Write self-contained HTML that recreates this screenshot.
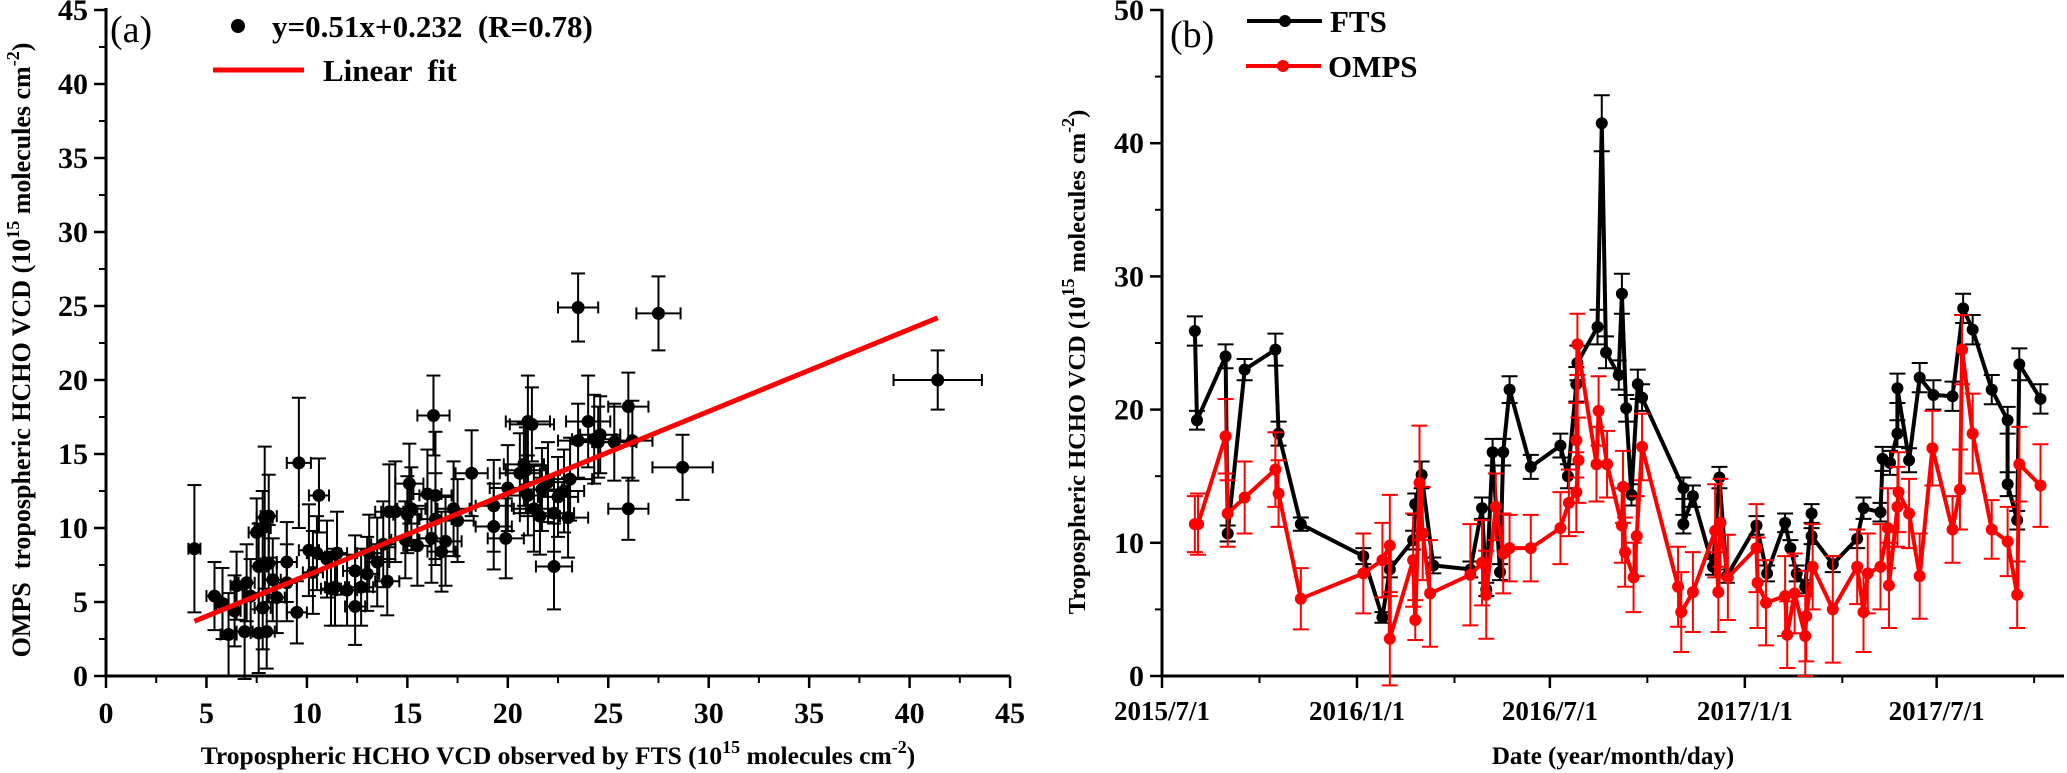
<!DOCTYPE html>
<html><head><meta charset="utf-8"><style>
html,body{margin:0;padding:0;background:#fff;}
svg{display:block;font-family:"Liberation Serif",serif;}
text{white-space:pre;}
</style></head><body>
<svg id="chart" width="2067" height="773" viewBox="0 0 2067 773"></svg>
<script>
// ---------- Panel (a) data ----------
const scatterFTS = [23.5,27.5,41.4,16.3,21,21.2,26,24.6,23.5,24.5,26.2,28.7,26.0,22.3,9.6,10.6,18.2,16,16.4,15.1,14.1,15.2,13.5,13.1,12.4,5.4,4.4,6.1,6.9,7.6,8.0,7.8,8.3,7.6,8.1,7.5,7.8,8.1,7.9,9.0,9.5,10.1,10.5,11.4,12.4,11.0,13.8,14.4,14.9,16.2,16.4,16.7,16.9,17.3,19.3,19.3,19.9,20.6,20.8,20.9,21.3,21.6,21.7,22.0,22.3,22.5,23.1,24.0,24.3,6.5,7.0,8.5,9.0,11.5,12.0,13.0,14.0,15.5,15.0,17.5,20.0,21.0,22.8,23.0,25.3,5.8,6.4,7.2,10.3,11.2,12.7];
const scatterOMPS = [24.9,24.5,20.0,17.6,17.2,17.0,18.2,16.3,15.9,15.8,15.9,14.1,11.3,7.4,14.4,12.2,13.7,12.3,12.2,13.0,11.1,11.3,7.7,8.3,4.7,5.4,8.6,2.8,3.0,2.9,3.0,4.6,6.5,7.4,7.6,9.7,10.0,10.8,10.7,7.7,4.3,8.5,8.3,6.0,7.1,7.9,8.9,11.1,9.2,9.3,10.6,8.4,9.1,11.3,11.5,10.1,9.3,13.7,14.3,13.9,11.3,10.8,12.6,13.1,11.0,12.1,13.3,17.2,16.0,6.1,6.3,5.3,6.3,8.3,5.8,6.9,6.4,8.8,10.9,10.5,12.7,12.2,12.5,10.7,15.8,4.9,4.4,5.4,7.0,5.9,6.0];
const scatterXErr = [1.0,1.1,2.2,0.8,1.1,1.1,1.0,1.0,1.0,1.0,1.0,1.5,1.0,0.9,0.6,0.5,0.8,0.7,0.8,0.7,0.7,0.7,0.6,0.6,0.5,0.4,0.3,0.4,0.4,0.4,0.4,0.4,0.4,0.4,0.4,0.4,0.4,0.4,0.4,0.5,0.5,0.5,0.5,0.5,0.6,0.5,0.6,0.7,0.7,0.7,0.8,0.7,0.8,0.8,0.9,0.9,0.9,1.0,1.0,1.0,1.0,1.0,1.0,1.0,1.0,1.0,1.1,1.1,1.1,0.3,0.4,0.4,0.5,0.5,0.5,0.6,0.6,0.7,0.7,0.8,0.9,1.0,1.0,1.0,1.1,0.3,0.3,0.4,0.5,0.5,0.6];
const scatterYErr = [2.3,2.5,2.0,2.7,3.1,2.5,2.3,2.6,2.5,2.4,2.7,2.2,2.1,2.9,4.4,2.5,2.9,3.0,4.3,2.7,3.2,2.8,3.0,2.6,2.6,2.3,4.3,2.8,3.2,2.7,2.5,2.8,2.8,2.9,2.6,2.3,2.5,2.8,4.8,2.7,2.1,3.1,2.5,2.6,2.4,2.6,2.9,3.4,2.6,3.0,3.1,2.7,3.0,3.2,3.1,2.9,2.7,2.7,2.8,2.9,2.9,2.6,2.8,2.7,2.6,2.7,2.8,3.1,3.0,2.3,2.6,2.4,2.6,2.8,2.4,2.5,2.3,2.7,2.6,2.8,2.9,2.7,2.8,2.7,2.6,2.4,2.4,2.5,2.8,2.5,2.6];
const fitX = [4.4, 41.4];
const fitY = [3.7, 24.2];
const aXTicks = [0,5,10,15,20,25,30,35,40,45];
const aYTicks = [0,5,10,15,20,25,30,35,40,45];

// ---------- Panel (b) data (days since 2015-07-01) ----------
const ftsDays = [31,33,60,62,78,107,110,131,190,208,215,237,239,245,256,291,302,306,312,319,322,328,348,376,383,391,392,411,415,419,431,434,438,443,449,453,492,492,501,520,526,533,561,571,588,593,599,607,613,613,633,656,662,678,680,687,694,694,705,715,728,746,756,765,783,798,798,807,809,829];
const ftsVals = [25.9,19.2,24.0,10.7,23.0,24.5,18.2,11.4,9.0,4.4,8.0,10.2,12.9,15.1,8.3,8.0,12.6,6.5,16.8,7.8,16.8,21.5,15.7,17.3,15.0,21.9,23.5,26.2,41.5,24.3,22.6,28.7,20.1,13.6,21.9,20.9,14.1,11.4,13.5,8.2,14.9,7.5,11.3,7.7,11.5,9.6,7.7,6.7,12.2,10.5,8.4,10.3,12.6,12.3,16.3,16.0,18.2,21.6,16.2,22.4,21.1,21.0,27.6,26.0,21.5,19.2,14.4,11.7,23.4,20.8];
const ftsErr = [1.1,0.7,0.9,0.6,0.8,1.2,0.9,0.5,0.6,0.4,0.6,0.7,0.8,1.0,0.6,0.6,0.8,0.5,1.0,0.6,1.0,1.0,0.9,0.9,0.9,1.3,1.3,1.3,2.1,1.2,1.1,1.5,1.0,0.8,1.1,1.0,0.8,0.7,0.8,0.6,0.8,0.5,0.7,0.6,0.7,0.6,0.6,0.5,0.7,0.6,0.6,0.7,0.8,0.7,0.9,0.9,1.0,1.1,0.9,1.1,1.1,1.1,1.1,1.1,1.1,1.0,0.9,0.7,1.2,1.1];
const ompsDays = [31,34,60,62,78,107,110,131,190,208,215,215,237,239,243,246,253,291,302,306,315,322,328,348,376,384,391,393,391,392,410,412,420,434,435,437,445,448,453,487,490,501,522,525,527,534,561,562,570,588,590,597,607,608,614,633,656,662,666,678,685,686,694,695,705,715,727,746,753,755,765,783,798,807,809,829];
const ompsVals = [11.4,11.4,18.0,12.2,13.4,15.5,13.7,5.8,7.7,8.7,9.8,2.8,8.7,4.2,14.5,10.7,6.2,7.6,8.5,6.1,12.7,9.2,9.6,9.6,11.1,13.0,13.8,16.2,17.7,24.9,15.9,19.9,15.9,11.3,14.2,9.3,7.4,10.5,17.2,6.7,4.8,6.3,10.9,6.3,11.5,7.4,9.6,7.0,5.5,6.0,3.1,6.2,3.0,4.5,8.2,5.0,8.2,4.8,7.7,8.2,11.1,6.8,12.7,13.8,12.2,7.5,17.1,11.0,14.0,24.5,18.2,11.0,10.1,6.1,15.9,14.3];
const ompsErr = [2.1,2.3,2.8,2.5,2.7,2.8,2.5,2.3,3.0,2.8,3.8,3.5,3.5,1.5,4.3,3.5,4.0,3.8,3.2,3.3,2.5,3.0,2.5,2.5,2.7,2.5,3.0,3.2,2.8,2.3,2.8,2.6,2.5,2.8,2.7,2.6,2.6,3.0,2.5,3.0,3.0,3.0,3.5,3.0,3.3,3.2,3.3,3.4,3.2,3.0,2.5,3.0,3.0,3.4,3.2,4.0,2.8,3.0,3.0,3.2,3.0,3.2,3.0,3.0,2.6,3.2,2.8,2.5,3.0,2.6,3.0,2.2,2.6,2.5,2.8,3.1];
const bYTicks = [0,10,20,30,40,50];
const bXTickLabels = ["2015/7/1","2016/1/1","2016/7/1","2017/1/1","2017/7/1"];
const bXTickDays = [0,184,366,550,731];

const NS = "http://www.w3.org/2000/svg";
const svg = document.getElementById("chart");
function mk(tag, attrs, parent){const e=document.createElementNS(NS,tag);for(const k in attrs)e.setAttribute(k,attrs[k]);(parent||svg).appendChild(e);return e;}

const ax = v => 106 + v*20.09;
const ay = v => 676 - v*14.8;
const bx = d => 1162 + d*1.0597;
const by = v => 676 - v*13.32;
const SUP = '<tspan dy="-11" font-size="18">15</tspan><tspan dy="11"> molecules cm</tspan><tspan dy="-11" font-size="18">-2</tspan><tspan dy="11">)</tspan>';

// ===== Panel A =====
const gA = mk("g",{});


const aAxisY = mk("line",{x1:106,y1:8,x2:106,y2:677,stroke:"#000","stroke-width":3},gA);


const aAxisX = mk("line",{x1:105,y1:676,x2:1010,y2:676,stroke:"#000","stroke-width":3},gA);


for(let i=0;i<aXTicks.length;i++){
  const v=aXTicks[i];
  mk("line",{x1:ax(v),y1:676,x2:ax(v),y2:688,stroke:"#000","stroke-width":2.5},gA);
  if(i<aXTicks.length-1) mk("line",{x1:ax(v+2.5),y1:676,x2:ax(v+2.5),y2:683,stroke:"#000","stroke-width":2},gA);
  const t=mk("text",{x:ax(v),y:723,"text-anchor":"middle","font-size":30,"font-weight":"bold"},gA);
  t.textContent=v;
  
  
}
for(let i=0;i<aYTicks.length;i++){
  const v=aYTicks[i];
  mk("line",{x1:94,y1:ay(v),x2:106,y2:ay(v),stroke:"#000","stroke-width":2.5},gA);
  if(i<aYTicks.length-1) mk("line",{x1:99,y1:ay(v+2.5),x2:106,y2:ay(v+2.5),stroke:"#000","stroke-width":2},gA);
  const t=mk("text",{x:88,y:ay(v)+10,"text-anchor":"end","font-size":30,"font-weight":"bold"},gA);
  t.textContent=v;
  
  
}
for(let i=0;i<scatterFTS.length;i++){
  const x=ax(scatterFTS[i]), y=ay(scatterOMPS[i]);
  const x1=ax(scatterFTS[i]-scatterXErr[i]), x2=ax(scatterFTS[i]+scatterXErr[i]);
  const y1=ay(scatterOMPS[i]-scatterYErr[i]), y2=ay(scatterOMPS[i]+scatterYErr[i]);
  const g=mk("g",{stroke:"#000","stroke-width":2},gA);
  
  
  mk("line",{x1:x1,y1:y,x2:x2,y2:y},g);
  mk("line",{x1:x1,y1:y-6,x2:x1,y2:y+6},g);
  mk("line",{x1:x2,y1:y-6,x2:x2,y2:y+6},g);
  mk("line",{x1:x,y1:y1,x2:x,y2:y2},g);
  mk("line",{x1:x-7,y1:y1,x2:x+7,y2:y1},g);
  mk("line",{x1:x-7,y1:y2,x2:x+7,y2:y2},g);
}
for(let i=0;i<scatterFTS.length;i++){
  const c=mk("circle",{cx:ax(scatterFTS[i]),cy:ay(scatterOMPS[i]),r:6.5,fill:"#000"},gA);
  
  
}
const fit=mk("line",{x1:ax(fitX[0]),y1:ay(fitY[0]),x2:ax(fitX[1]),y2:ay(fitY[1]),stroke:"#f00","stroke-width":5},gA);


const la=mk("text",{x:110,y:42,"font-size":38},gA); la.textContent="(a)";


const lg1=mk("circle",{cx:238,cy:26,r:7,fill:"#000"},gA);


const lt1=mk("text",{x:272,y:37,"font-size":31,"font-weight":"bold"},gA); lt1.textContent="y=0.51x+0.232  (R=0.78)";


const lg2=mk("line",{x1:213,y1:70,x2:304,y2:70,stroke:"#f00","stroke-width":5},gA);


const lt2=mk("text",{x:323,y:81,"font-size":31,"font-weight":"bold"},gA); lt2.textContent="Linear  fit";


const aXT=mk("text",{x:558,y:764,"text-anchor":"middle","font-size":25.5,"font-weight":"bold"},gA);
aXT.innerHTML='Tropospheric HCHO VCD observed by FTS (10'+SUP;


const aYT=mk("text",{x:0,y:0,"text-anchor":"middle","font-size":26,"font-weight":"bold",transform:"translate(30,350) rotate(-90)"},gA);
aYT.innerHTML='OMPS  tropospheric HCHO VCD (10'+SUP;



// ===== Panel B =====
const gB = mk("g",{});


const bAxisY=mk("line",{x1:1162,y1:9,x2:1162,y2:677,stroke:"#000","stroke-width":3},gB);


const bAxisX=mk("line",{x1:1161,y1:676,x2:2064,y2:676,stroke:"#000","stroke-width":3},gB);


for(let i=0;i<bYTicks.length;i++){
  const v=bYTicks[i];
  mk("line",{x1:1150,y1:by(v),x2:1162,y2:by(v),stroke:"#000","stroke-width":2.5},gB);
  if(i<bYTicks.length-1) mk("line",{x1:1155,y1:by(v+5),x2:1162,y2:by(v+5),stroke:"#000","stroke-width":2},gB);
  const t=mk("text",{x:1144,y:by(v)+10,"text-anchor":"end","font-size":30,"font-weight":"bold"},gB);
  t.textContent=v;
  
  
}
for(let i=0;i<bXTickDays.length;i++){
  const d=bXTickDays[i];
  mk("line",{x1:bx(d),y1:676,x2:bx(d),y2:688,stroke:"#000","stroke-width":2.5},gB);
  mk("line",{x1:bx(d+92),y1:676,x2:bx(d+92),y2:683,stroke:"#000","stroke-width":2},gB);
  const t=mk("text",{x:bx(d),y:720,"text-anchor":"middle","font-size":27,"font-weight":"bold"},gB);
  t.textContent=bXTickLabels[i];
  
  
}
function series(days,vals,errs,color,name,lw){
  const g=mk("g",{},gB);
  
  
  const eg=mk("g",{stroke:color,"stroke-width":2},g);
  for(let i=0;i<days.length;i++){
    const x=bx(days[i]),y1=by(vals[i]-errs[i]),y2=by(vals[i]+errs[i]);
    mk("line",{x1:x,y1:y1,x2:x,y2:y2},eg);
    mk("line",{x1:x-8,y1:y1,x2:x+8,y2:y1},eg);
    mk("line",{x1:x-8,y1:y2,x2:x+8,y2:y2},eg);
  }
  let d="";
  for(let i=0;i<days.length;i++) d+=(i?"L":"M")+bx(days[i]).toFixed(1)+","+by(vals[i]).toFixed(1);
  const p=mk("path",{d:d,fill:"none",stroke:color,"stroke-width":lw,"stroke-linejoin":"round"},g);
  
  
  for(let i=0;i<days.length;i++){
    const c=mk("circle",{cx:bx(days[i]),cy:by(vals[i]),r:6,fill:color},g);
    
    
  }
}
series(ftsDays,ftsVals,ftsErr,"#000","fts",4);
series(ompsDays,ompsVals,ompsErr,"#f00","omps",4);
const lb=mk("text",{x:1170,y:47,"font-size":38},gB); lb.textContent="(b)";


const l1=mk("line",{x1:1247,y1:21,x2:1322,y2:21,stroke:"#000","stroke-width":4},gB);


const l1c=mk("circle",{cx:1285,cy:21,r:6,fill:"#000"},gB);


const t1=mk("text",{x:1330,y:32,"font-size":31,"font-weight":"bold"},gB); t1.textContent="FTS";


const l2=mk("line",{x1:1246,y1:66,x2:1321,y2:66,stroke:"#f00","stroke-width":4},gB);


const l2c=mk("circle",{cx:1283,cy:66,r:6,fill:"#f00"},gB);


const t2=mk("text",{x:1328,y:77,"font-size":31,"font-weight":"bold"},gB); t2.textContent="OMPS";


const bXT=mk("text",{x:1613,y:764,"text-anchor":"middle","font-size":25,"font-weight":"bold"},gB);
bXT.textContent="Date (year/month/day)";


const bYT=mk("text",{x:0,y:0,"text-anchor":"middle","font-size":24.5,"font-weight":"bold",transform:"translate(1085,362) rotate(-90)"},gB);
bYT.innerHTML='Tropospheric HCHO VCD (10'+SUP;


</script>
</body></html>
